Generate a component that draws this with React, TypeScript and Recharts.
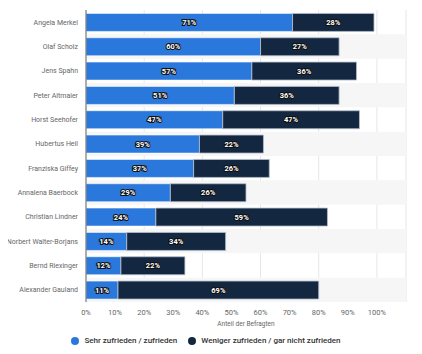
import React from "react";
import {
  BarChart,
  Bar,
  XAxis,
  YAxis,
  CartesianGrid,
  Legend,
  LabelList,
  ReferenceArea,
} from "recharts";

const politicians = [
  "Angela Merkel",
  "Olaf Scholz",
  "Jens Spahn",
  "Peter Altmaier",
  "Horst Seehofer",
  "Hubertus Heil",
  "Franziska Giffey",
  "Annalena Baerbock",
  "Christian Lindner",
  "Norbert Walter-Borjans",
  "Bernd Riexinger",
  "Alexander Gauland",
];
const satisfied = [71, 60, 57, 51, 47, 39, 37, 29, 24, 14, 12, 11];
const dissatisfied = [28, 27, 36, 36, 47, 22, 26, 26, 59, 34, 22, 69];
const xTicks = [0, 10, 20, 30, 40, 50, 60, 70, 80, 90, 100, 110];

const BLUE = "#2a78dc";
const NAVY = "#132840";
const FONT = "Roboto, sans-serif";

const data = politicians.map((name, i) => ({
  name,
  satisfied: satisfied[i],
  dissatisfied: dissatisfied[i],
}));

const BarLabel = (props: any) => {
  const { x, y, width, height, value } = props;
  return (
    <text
      x={x + width / 2}
      y={y + height / 2}
      dy="0.35em"
      textAnchor="middle"
      fontFamily={FONT}
      fontSize={7.5}
      fontWeight={700}
      fill="#ffffff"
      stroke="#111"
      strokeWidth={2}
      paintOrder="stroke"
    >
      {value}%
    </text>
  );
};

const NameTick = (props: any) => {
  const { y, payload } = props;
  return (
    <text
      x={78}
      y={y}
      dy="0.35em"
      textAnchor="end"
      fontFamily={FONT}
      fontSize={7}
      fill="#666"
    >
      {payload.value}
    </text>
  );
};

const LegendContent = () => (
  <div
    style={{
      display: "flex",
      justifyContent: "center",
      alignItems: "center",
      gap: 11,
      paddingTop: 6,
      paddingLeft: 6,
      fontFamily: FONT,
      fontSize: 8,
      lineHeight: "10px",
      fontWeight: 500,
      color: "#333",
    }}
  >
    {[
      ["Sehr zufrieden / zufrieden", BLUE],
      ["Weniger zufrieden / gar nicht zufrieden", NAVY],
    ].map(([label, color]) => (
      <span key={label} style={{ display: "flex", alignItems: "center" }}>
        <span
          style={{
            width: 8,
            height: 8,
            borderRadius: "50%",
            background: color,
            marginRight: 5,
            display: "inline-block",
          }}
        />
        {label}
      </span>
    ))}
  </div>
);

export default function App() {
  return (
    <div style={{ margin: -8, background: "#fff", width: 422, height: 354 }}>
      <BarChart
        width={422}
        height={354}
        data={data}
        layout="vertical"
        margin={{ top: 10, right: 16, left: 0, bottom: 0 }}
        barCategoryGap="14%"
        style={{ overflow: "visible" }}
      >
        {politicians.map((p, i) =>
          i % 2 === 1 ? (
            <ReferenceArea key={p} y1={p} y2={p} fill="#f6f6f6" fillOpacity={1} stroke="none" />
          ) : null
        )}
        <CartesianGrid horizontal={false} stroke="#e6e6e6" />
        <XAxis
          type="number"
          domain={[0, 110]}
          ticks={xTicks}
          tickFormatter={(v: number) => (v > 100 ? "" : `${v}%`)}
          axisLine={false}
          tickLine={false}
          tick={{ fill: "#666", fontSize: 7.5, fontFamily: FONT }}
          height={28}
          label={{
            value: "Anteil der Befragten",
            position: "insideBottom",
            offset: 4,
            fill: "#666",
            fontSize: 6.5,
            fontFamily: FONT,
          }}
        />
        <YAxis
          type="category"
          dataKey="name"
          width={86}
          axisLine={{ stroke: "#666" }}
          tickLine={false}
          tick={<NameTick />}
          interval={0}
        />
        <Legend verticalAlign="bottom" height={24} content={<LegendContent />} />
        <Bar
          dataKey="satisfied"
          stackId="a"
          fill={BLUE}
          stroke="rgba(255,255,255,0.55)"
          strokeWidth={1}
          isAnimationActive={false}
        >
          <LabelList dataKey="satisfied" content={BarLabel} />
        </Bar>
        <Bar
          dataKey="dissatisfied"
          stackId="a"
          fill={NAVY}
          stroke="rgba(180,190,205,0.8)"
          strokeWidth={1}
          isAnimationActive={false}
        >
          <LabelList dataKey="dissatisfied" content={BarLabel} />
        </Bar>
      </BarChart>
    </div>
  );
}
